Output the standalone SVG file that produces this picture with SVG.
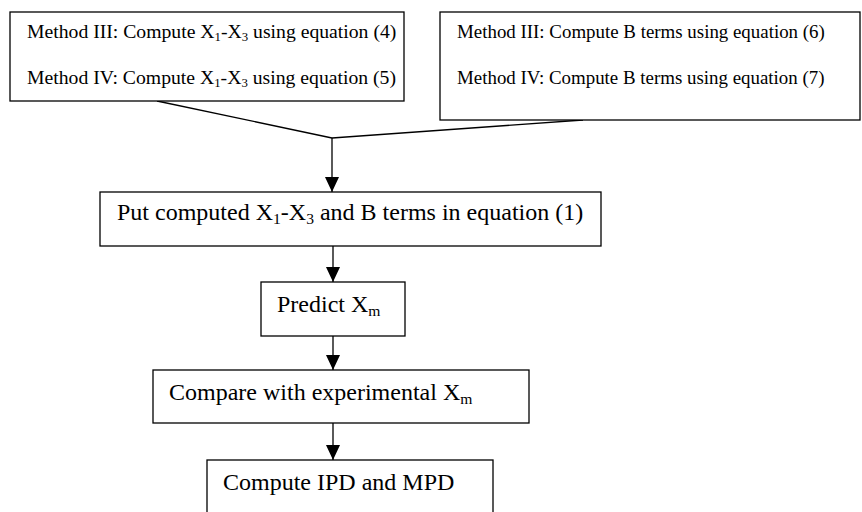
<svg xmlns="http://www.w3.org/2000/svg" width="862" height="512" viewBox="0 0 862 512">
<style>
.box{fill:#fff;stroke:#000;stroke-width:1.3}
.t{font-family:"Liberation Serif","Times New Roman",serif;fill:#000}
.s1{font-size:19.7px}
.s2{font-size:18.9px}
.l{font-size:24px}
.sub{font-size:65%}
.c{stroke:#000;stroke-width:1.3;fill:none}
</style>
<defs>
<marker id="ah" markerUnits="userSpaceOnUse" markerWidth="16" markerHeight="16" viewBox="0 0 16 16" refX="15" refY="8" orient="auto">
<path d="M0,1 L15,8 L0,15 Z" fill="#000"/>
</marker>
</defs>
<rect width="862" height="512" fill="#fff"/>
<g id="connectors">
<line class="c" x1="157" y1="101" x2="332" y2="138"/>
<line class="c" x1="583" y1="120" x2="332" y2="138"/>
<line class="c" x1="332" y1="138" x2="332" y2="192" marker-end="url(#ah)"/>
<line class="c" x1="333" y1="246" x2="333" y2="282" marker-end="url(#ah)"/>
<line class="c" x1="333" y1="336" x2="333" y2="370" marker-end="url(#ah)"/>
<line class="c" x1="333" y1="423" x2="333" y2="460" marker-end="url(#ah)"/>
</g>
<g id="box1">
<rect class="box" x="10" y="12" width="394" height="89"/>
<text class="t s1" x="27" y="38">Method III: Compute X<tspan class="sub" dy="3">1</tspan><tspan dy="-3">-X</tspan><tspan class="sub" dy="3">3</tspan><tspan dy="-3"> using equation (4)</tspan></text>
<text class="t s1" x="27" y="84">Method IV: Compute X<tspan class="sub" dy="3">1</tspan><tspan dy="-3">-X</tspan><tspan class="sub" dy="3">3</tspan><tspan dy="-3"> using equation (5)</tspan></text>
</g>
<g id="box2">
<rect class="box" x="440" y="12" width="420" height="108"/>
<text class="t s2" x="457" y="38">Method III: Compute B terms using equation (6)</text>
<text class="t s2" x="457" y="84">Method IV: Compute B terms using equation (7)</text>
</g>
<g id="box3">
<rect class="box" x="100" y="192" width="501" height="54"/>
<text class="t l" x="117" y="220">Put computed X<tspan class="sub" dy="4">1</tspan><tspan dy="-4">-X</tspan><tspan class="sub" dy="4">3</tspan><tspan dy="-4"> and B terms in equation (1)</tspan></text>
</g>
<g id="box4">
<rect class="box" x="261" y="282" width="144" height="54"/>
<text class="t l" x="277" y="312">Predict X<tspan class="sub" dy="4">m</tspan></text>
</g>
<g id="box5">
<rect class="box" x="153" y="370" width="376" height="53"/>
<text class="t l" x="169" y="400">Compare with experimental X<tspan class="sub" dy="4">m</tspan></text>
</g>
<g id="box6">
<rect class="box" x="207" y="460" width="286" height="60"/>
<text class="t l" x="223" y="490">Compute IPD and MPD</text>
</g>
</svg>
